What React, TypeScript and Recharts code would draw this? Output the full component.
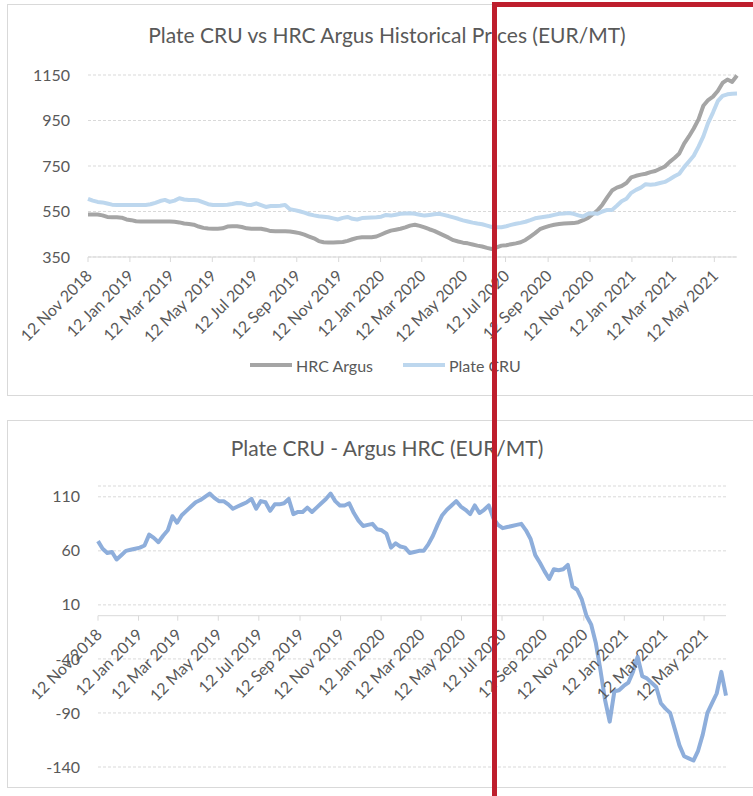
import { LineChart, Line, XAxis, YAxis, CartesianGrid, ReferenceLine } from "recharts";

// weekly observations, first one on this date
const FIRST_WEEK = "2018-11-12";

const tickDates = [
  "2018-11-12", "2019-01-12", "2019-03-12", "2019-05-12", "2019-07-12", "2019-09-12",
  "2019-11-12", "2020-01-12", "2020-03-12", "2020-05-12", "2020-07-12", "2020-09-12",
  "2020-11-12", "2021-01-12", "2021-03-12", "2021-05-12",
];
const MONTHS = ["Jan", "Feb", "Mar", "Apr", "May", "Jun", "Jul", "Aug", "Sep", "Oct", "Nov", "Dec"];

const hrcArgus = [
  537, 537, 537, 533, 526, 525, 525, 523, 515, 512,
  507, 506, 506, 506, 506, 506, 506, 506, 505, 502,
  497, 495, 492, 484, 478, 475, 474, 474, 476, 484,
  485, 485, 482, 476, 474, 474, 474, 470, 464, 463,
  463, 463, 462, 459, 455, 448, 440, 432, 420, 415,
  414, 414, 415, 416, 421, 428, 434, 437, 437, 437,
  440, 449, 458, 466, 470, 474, 480, 488, 492, 487,
  480, 472, 465, 455, 445, 435, 424, 418, 413, 410,
  405, 400, 396, 390, 385, 392, 400, 402, 406, 410,
  415, 425, 440, 455, 472, 480, 487, 492, 495, 497,
  498, 499, 503, 512, 522, 538, 555, 580, 612, 642,
  655, 662, 675, 700, 707, 712, 716, 723, 728, 738,
  748, 768, 785, 805, 848, 880, 915, 955, 1015, 1040,
  1055, 1080, 1115, 1130, 1120, 1148,
];

const plateCru = [
  606, 598, 592, 590, 585, 580, 579, 579, 579, 579,
  579, 579, 579, 582, 588, 596, 601, 592, 598, 608,
  603, 601, 601, 598, 590, 582, 579, 579, 579, 580,
  583, 587, 586, 580, 579, 586, 578, 570, 574, 574,
  575, 579, 560, 556, 551, 545, 538, 533, 529, 527,
  525, 520, 515, 522, 526, 518, 515, 521, 523, 524,
  525, 527, 535, 532, 536, 540, 541, 542, 540, 536,
  532, 535, 538, 540, 535, 530, 524, 518, 511, 506,
  501, 497, 494, 488, 482, 481, 481, 485, 491, 496,
  500, 505, 512, 520, 524, 527, 530, 535, 540, 541,
  543, 540, 533, 528, 540, 542, 540, 550, 557, 557,
  575, 595, 606, 632, 645, 655, 670, 668, 670, 675,
  680, 692, 705, 716, 745, 770, 795, 835, 880, 940,
  985, 1035, 1058, 1065, 1068, 1069,
];

const cruMinusArgus = [
  69, 62, 58, 59, 52, 56, 60, 61, 62, 63,
  65, 75, 72, 68, 74, 79, 92, 86, 93, 97,
  101, 105, 107, 110, 113, 109, 106, 106, 103, 99,
  101, 103, 105, 108, 99, 106, 105, 97, 103, 103,
  104, 108, 94, 96, 96, 100, 96, 100, 104, 108,
  113, 106, 102, 102, 104, 95, 88, 83, 84, 85,
  80, 79, 76, 63, 67, 64, 63, 58, 59, 60,
  60, 66, 74, 84, 93, 98, 102, 106, 101, 98,
  94, 102, 95, 98, 102, 90, 84, 81, 82, 83,
  84, 85, 79, 71, 56, 49, 41, 34, 43, 42,
  43, 47, 27, 24, 15, 0, -8, -25, -50, -78,
  -98, -70, -69, -65, -62, -52, -38, -56, -58, -62,
  -66, -81, -86, -90, -105, -120, -130, -132, -134, -125,
  -110, -90, -81, -72, -52, -74,
];

const priceTicks = [350, 550, 750, 950, 1150];
const spreadTicks = [-140, -90, -40, 10, 60, 110];

const DAY_MS = 86400000;
const dayOf = (iso: string) => Math.round((Date.parse(iso) - Date.parse(FIRST_WEEK)) / DAY_MS);
const fmtDate = (day: number) => {
  const d = new Date(Date.parse(FIRST_WEEK) + day * DAY_MS);
  return `${d.getUTCDate()} ${MONTHS[d.getUTCMonth()]} ${d.getUTCFullYear()}`;
};

const rows = hrcArgus.map((v, i) => ({
  day: i * 7,
  hrc: v,
  cru: plateCru[i],
  spread: cruMinusArgus[i],
}));
const xTicks = tickDates.map(dayOf);

const FONT = "Lato, 'Open Sans', sans-serif";
const TEXT = "#595959";
const GRID = "#D9D9D9";
const GRAY = "#A5A5A5";
const LIGHT_BLUE = "#BDD7EE";
const BLUE = "#8EAEDB";
const W = 760;

// top chart layout
const TOP_H = 392;
const TOP_M = { top: 71, right: 30, bottom: 39, left: 0 };
const TOP_PLOT_BOTTOM = TOP_H - TOP_M.bottom - 100;

// bottom chart layout
const BOT_H = 368;
const BOT_M = { top: 66, right: 41, bottom: 20, left: 0 };
const SPREAD_DOMAIN: [number, number] = [-140, 120];
const BOT_PLOT_H = BOT_H - BOT_M.top - BOT_M.bottom - 1;
const ZERO_Y = BOT_M.top + (SPREAD_DOMAIN[1] / (SPREAD_DOMAIN[1] - SPREAD_DOMAIN[0])) * BOT_PLOT_H;

function dateTick(axisY: number) {
  return (props: any) => {
    const { x, payload } = props;
    return (
      <g>
        <line x1={x} x2={x} y1={axisY} y2={axisY + 5} stroke={GRID} />
        <text
          transform={`translate(${x + 1},${axisY + 16}) rotate(-45)`}
          textAnchor="end"
          dy="0.35em"
          fill={TEXT}
          fontSize={16}
          fontFamily={FONT}
        >
          {fmtDate(payload.value)}
        </text>
      </g>
    );
  };
}

function valueTick(rightX: number) {
  return (props: any) => (
    <text x={rightX} y={props.y} dy="0.35em" textAnchor="end" fill={TEXT} fontSize={16} fontFamily={FONT}>
      {props.payload.value}
    </text>
  );
}

const boxStyle = (top: number, height: number): React.CSSProperties => ({
  position: "absolute",
  left: 7,
  top,
  width: W,
  height,
  border: `1px solid ${GRID}`,
  boxSizing: "border-box",
  background: "#fff",
});

const titleStyle = (top: number): React.CSSProperties => ({
  position: "absolute",
  left: 7,
  top,
  width: W,
  textAlign: "center",
  fontFamily: FONT,
  fontSize: 21,
  color: TEXT,
  lineHeight: "24px",
});

function LegendItem({ color, label, left }: { color: string; label: string; left: number }) {
  return (
    <div style={{ position: "absolute", left, top: 354, display: "flex", alignItems: "center", height: 22 }}>
      <div style={{ width: 42, height: 4, background: color, marginRight: 4 }} />
      <span style={{ fontFamily: FONT, fontSize: 16, color: TEXT }}>{label}</span>
    </div>
  );
}

export default function App() {
  return (
    <div style={{ position: "absolute", left: 0, top: 0, width: 753, height: 796, overflow: "hidden", background: "#fff" }}>
      {/* price history */}
      <div style={boxStyle(4, TOP_H)} />
      <div style={{ position: "absolute", left: 7, top: 4 }}>
        <LineChart width={W} height={TOP_H} data={rows} margin={TOP_M}>
          <CartesianGrid vertical={false} stroke={GRID} strokeDasharray="3 2" />
          <XAxis
            dataKey="day"
            type="number"
            domain={[0, "dataMax"]}
            ticks={xTicks}
            interval={0}
            height={100}
            axisLine={{ stroke: GRID }}
            tickLine={false}
            tick={dateTick(TOP_PLOT_BOTTOM)}
          />
          <YAxis
            type="number"
            domain={[350, 1150]}
            ticks={priceTicks}
            width={81}
            axisLine={false}
            tickLine={false}
            tick={valueTick(63)}
          />
          <Line type="linear" dataKey="hrc" stroke={GRAY} strokeWidth={4} dot={false} strokeLinejoin="round" isAnimationActive={false} />
          <Line type="linear" dataKey="cru" stroke={LIGHT_BLUE} strokeWidth={4} dot={false} strokeLinejoin="round" isAnimationActive={false} />
        </LineChart>
      </div>
      <div style={titleStyle(23)}>Plate CRU vs HRC Argus Historical Prices (EUR/MT)</div>
      <LegendItem color={GRAY} label="HRC Argus" left={250} />
      <LegendItem color={LIGHT_BLUE} label="Plate CRU" left={403} />

      {/* spread */}
      <div style={boxStyle(420, BOT_H)} />
      <div style={{ position: "absolute", left: 7, top: 420 }}>
        <LineChart width={W} height={BOT_H} data={rows} margin={BOT_M}>
          <CartesianGrid vertical={false} stroke={GRID} strokeDasharray="3 2" />
          <ReferenceLine y={0} stroke={GRID} />
          <XAxis
            dataKey="day"
            type="number"
            domain={[0, "dataMax"]}
            ticks={xTicks}
            interval={0}
            height={1}
            axisLine={false}
            tickLine={false}
            tick={dateTick(ZERO_Y)}
          />
          <YAxis
            type="number"
            domain={SPREAD_DOMAIN}
            ticks={spreadTicks}
            width={91}
            axisLine={false}
            tickLine={false}
            tick={valueTick(73)}
          />
          <Line type="linear" dataKey="spread" stroke={BLUE} strokeWidth={4} dot={false} strokeLinejoin="round" isAnimationActive={false} />
        </LineChart>
      </div>
      <div style={titleStyle(436)}>Plate CRU - Argus HRC (EUR/MT)</div>

      {/* highlight box */}
      <div
        style={{
          position: "absolute",
          left: 492,
          top: 2,
          width: 400,
          height: 900,
          border: "5px solid #BE1E2D",
          boxSizing: "border-box",
        }}
      />
    </div>
  );
}
